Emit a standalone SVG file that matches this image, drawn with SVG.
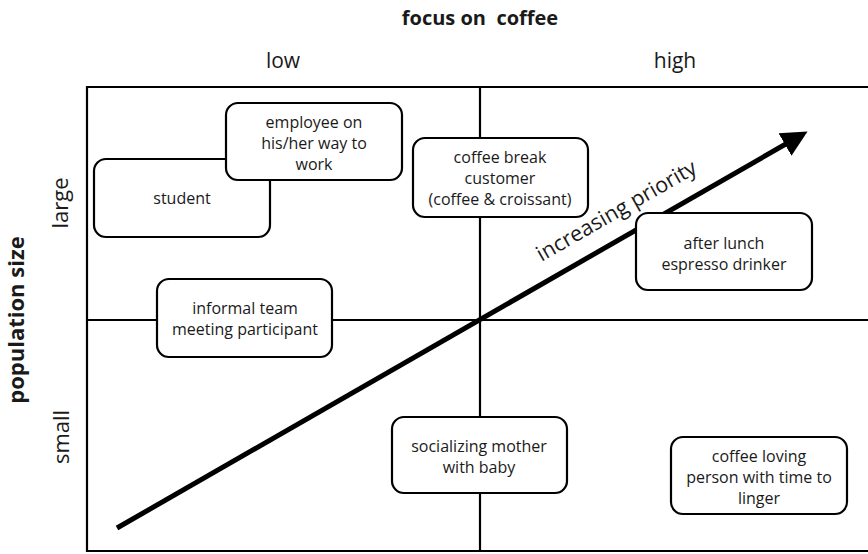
<svg xmlns="http://www.w3.org/2000/svg" width="868" height="554" viewBox="0 0 868 554">
<style>
text{font-family:"Open Sans","Noto Sans","DejaVu Sans",sans-serif;fill:#1a1a1a}
.lbl{font-size:16px;text-anchor:middle}
.axis{font-size:21px;text-anchor:middle}
.title{font-size:20px;font-weight:bold;text-anchor:middle}
.box{fill:#fff;stroke:#000;stroke-width:2.2}
.grid{stroke:#000;stroke-width:2.2;fill:none}
</style>
<defs>
<marker id="ah" markerWidth="6" markerHeight="6" refX="3" refY="3" orient="auto" markerUnits="strokeWidth">
<path d="M0,0.4 L5.2,3 L0,5.6 Z" fill="#000"/>
</marker>
</defs>
<g id="frame">
<path class="grid" d="M870,87 H87 V551 H870"/>
<line class="grid" x1="480" y1="87" x2="480" y2="551"/>
<line class="grid" x1="87" y1="320" x2="870" y2="320"/>
</g>
<g id="labels">
<text class="title" x="480" y="25" xml:space="preserve">focus on  coffee</text>
<text class="axis" x="283" y="68">low</text>
<text class="axis" x="675" y="68">high</text>
<text class="title" style="font-size:22px" transform="translate(24,320) rotate(-90)">population size</text>
<text class="axis" style="font-size:22px" transform="translate(68,203) rotate(-90)">large</text>
<text class="axis" style="font-size:22px" transform="translate(69,437) rotate(-90)">small</text>
</g>
<g id="connectors">
<line x1="117" y1="528" x2="798" y2="137" stroke="#000" stroke-width="5" marker-end="url(#ah)"/>
<text style="font-size:21.5px" text-anchor="middle" transform="translate(620,217) rotate(-29.8)">increasing priority</text>
</g>
<g id="student">
<rect class="box" x="94" y="159" width="176" height="78" rx="12"/>
<text class="lbl" x="182" y="204">student</text>
</g>
<g id="employee">
<rect class="box" x="226" y="103" width="176" height="77" rx="12"/>
<text class="lbl" x="314" y="128">employee on</text>
<text class="lbl" x="314" y="149">his/her way to</text>
<text class="lbl" x="314" y="170">work</text>
</g>
<g id="coffee-break">
<rect class="box" x="413" y="138" width="175" height="79" rx="12"/>
<text class="lbl" x="500" y="163">coffee break</text>
<text class="lbl" x="500" y="184">customer</text>
<text class="lbl" x="500" y="205">(coffee &amp; croissant)</text>
</g>
<g id="informal-team">
<rect class="box" x="157" y="279" width="175" height="78" rx="12"/>
<text class="lbl" x="245" y="314">informal team</text>
<text class="lbl" x="245" y="335">meeting participant</text>
</g>
<g id="after-lunch">
<rect class="box" x="636" y="213" width="176" height="77" rx="12"/>
<text class="lbl" x="724" y="249">after lunch</text>
<text class="lbl" x="724" y="270">espresso drinker</text>
</g>
<g id="socializing">
<rect class="box" x="392" y="417" width="175" height="76" rx="12"/>
<text class="lbl" x="479" y="452">socializing mother</text>
<text class="lbl" x="479" y="473">with baby</text>
</g>
<g id="coffee-loving">
<rect class="box" x="671" y="437" width="176" height="77" rx="12"/>
<text class="lbl" x="759" y="462">coffee loving</text>
<text class="lbl" x="759" y="483">person with time to</text>
<text class="lbl" x="759" y="504">linger</text>
</g>
</svg>
